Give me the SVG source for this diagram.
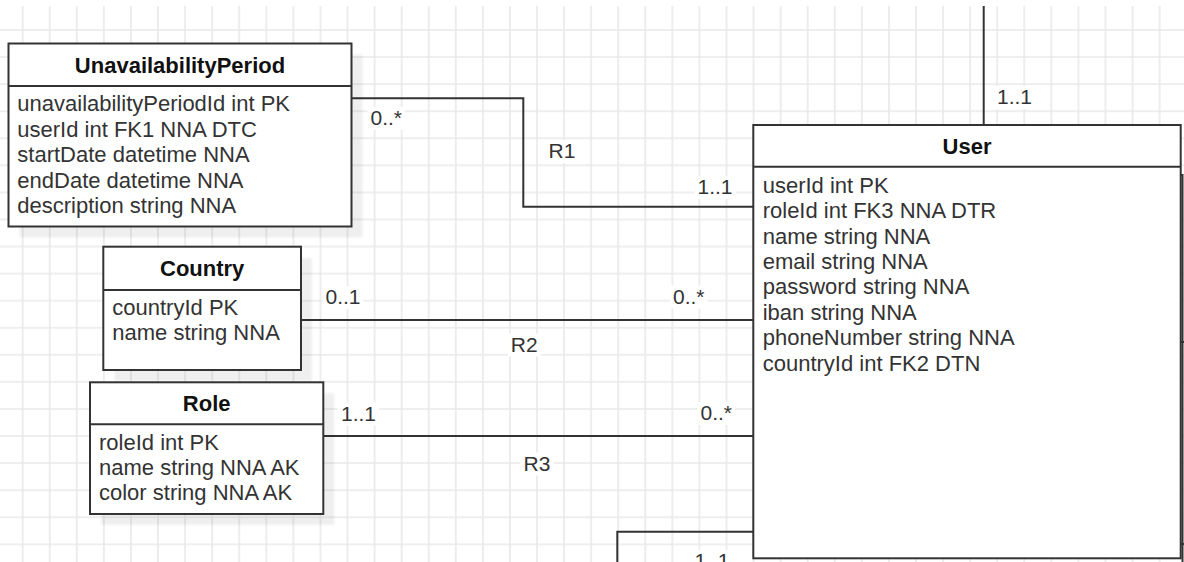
<svg xmlns="http://www.w3.org/2000/svg" width="1184" height="562" viewBox="0 0 1184 562">
<defs>
<pattern id="grid" patternUnits="userSpaceOnUse" x="9.165" y="16.465" width="27.07" height="27.07">
<path d="M13.535 0V27.07M0 13.535H27.07" stroke="#e9e9e9" stroke-width="1.6" fill="none"/>
</pattern>
<filter id="sh" x="-10%" y="-10%" width="120%" height="120%"><feGaussianBlur stdDeviation="1.2"/></filter>
<style>
.box{fill:#fff;stroke:#333;stroke-width:2}
.shadow{fill:#000;opacity:0.06;filter:url(#sh)}
.sep{stroke:#333;stroke-width:2}
.title{font-family:"Liberation Sans",Arial,sans-serif;font-size:22px;font-weight:bold;fill:#111;text-anchor:middle}
.row{font-family:"Liberation Sans",Arial,sans-serif;font-size:22px;fill:#333}
.lbl{font-family:"Liberation Sans",Arial,sans-serif;font-size:21px;fill:#333}
.lblbg{fill:#fff}
.conn{fill:none;stroke:#333;stroke-width:2}
</style>
</defs>
<rect x="0" y="0" width="1184" height="562" fill="#fff"/>
<rect x="0" y="6" width="1184" height="556" fill="url(#grid)"/>

<g id="connectors">
<path class="conn" d="M351.7 98.3H523.3V206.7H753.3"/>
<path class="conn" d="M301 320H753.3"/>
<path class="conn" d="M323.3 436H753.3"/>
<path class="conn" d="M983.7 6V125"/>
<path class="conn" d="M753.3 531.7H617.3V562"/>
<path class="conn" d="M1180.7 175H1182.5V562M1180.7 342H1184M1180.7 544H1184"/>
<rect class="lblbg" x="367.5" y="107" width="37.5" height="23"/>
<text class="lbl" x="370.5" y="125">0..*</text>
<rect class="lblbg" x="545.5" y="140" width="33" height="23"/>
<text class="lbl" x="548.5" y="158.3">R1</text>
<rect class="lblbg" x="694.5" y="176" width="41" height="23"/>
<text class="lbl" x="697.5" y="194.3">1..1</text>
<rect class="lblbg" x="322.5" y="286" width="41" height="23"/>
<text class="lbl" x="325.5" y="304.3">0..1</text>
<rect class="lblbg" x="670" y="285.5" width="37.5" height="23"/>
<text class="lbl" x="673" y="303.5">0..*</text>
<rect class="lblbg" x="507.8" y="333.5" width="33" height="23"/>
<text class="lbl" x="510.8" y="351.7">R2</text>
<rect class="lblbg" x="338" y="402.5" width="41" height="23"/>
<text class="lbl" x="341" y="420.5">1..1</text>
<rect class="lblbg" x="697.5" y="402" width="37.5" height="23"/>
<text class="lbl" x="700.5" y="420">0..*</text>
<rect class="lblbg" x="520.5" y="452.5" width="33" height="23"/>
<text class="lbl" x="523.5" y="470.7">R3</text>
<rect class="lblbg" x="994" y="86" width="41" height="23"/>
<text class="lbl" x="997" y="104">1..1</text>
<rect class="lblbg" x="691.5" y="550" width="41" height="23"/>
<text class="lbl" x="694.5" y="568">1..1</text>
</g>

<g id="UnavailabilityPeriod">
<rect class="shadow" x="19.5" y="54.5" width="343" height="183"/>
<rect class="box" x="8.5" y="43.5" width="343" height="183"/>
<line class="sep" x1="8.5" y1="86" x2="351.5" y2="86"/>
<text class="title" x="180" y="72.6">UnavailabilityPeriod</text>
<text class="row" x="17.3" y="111">unavailabilityPeriodId int PK</text>
<text class="row" x="17.3" y="136.5">userId int FK1 NNA DTC</text>
<text class="row" x="17.3" y="162">startDate datetime NNA</text>
<text class="row" x="17.3" y="187.5">endDate datetime NNA</text>
<text class="row" x="17.3" y="213">description string NNA</text>
</g>

<g id="Country">
<rect class="shadow" x="114.3" y="257.7" width="197.7" height="123.3"/>
<rect class="box" x="103.3" y="246.7" width="197.7" height="123.3"/>
<line class="sep" x1="103.3" y1="290" x2="301" y2="290"/>
<text class="title" x="202.2" y="276.2">Country</text>
<text class="row" x="112.3" y="315">countryId PK</text>
<text class="row" x="112.3" y="340">name string NNA</text>
</g>

<g id="Role">
<rect class="shadow" x="101" y="393.3" width="233.3" height="131.7"/>
<rect class="box" x="90" y="382.3" width="233.3" height="131.7"/>
<line class="sep" x1="90" y1="424.3" x2="323.3" y2="424.3"/>
<text class="title" x="206.7" y="411.2">Role</text>
<text class="row" x="99" y="450">roleId int PK</text>
<text class="row" x="99" y="475">name string NNA AK</text>
<text class="row" x="99" y="500">color string NNA AK</text>
</g>

<g id="User">
<rect class="box" x="753.3" y="125" width="427.4" height="433.3"/>
<line class="sep" x1="753.3" y1="166.7" x2="1180.7" y2="166.7"/>
<text class="title" x="967" y="153.8">User</text>
<text class="row" x="762.7" y="192.7">userId int PK</text>
<text class="row" x="762.7" y="218.1">roleId int FK3 NNA DTR</text>
<text class="row" x="762.7" y="243.5">name string NNA</text>
<text class="row" x="762.7" y="268.9">email string NNA</text>
<text class="row" x="762.7" y="294.3">password string NNA</text>
<text class="row" x="762.7" y="319.7">iban string NNA</text>
<text class="row" x="762.7" y="345.1">phoneNumber string NNA</text>
<text class="row" x="762.7" y="370.5">countryId int FK2 DTN</text>
</g>
</svg>
